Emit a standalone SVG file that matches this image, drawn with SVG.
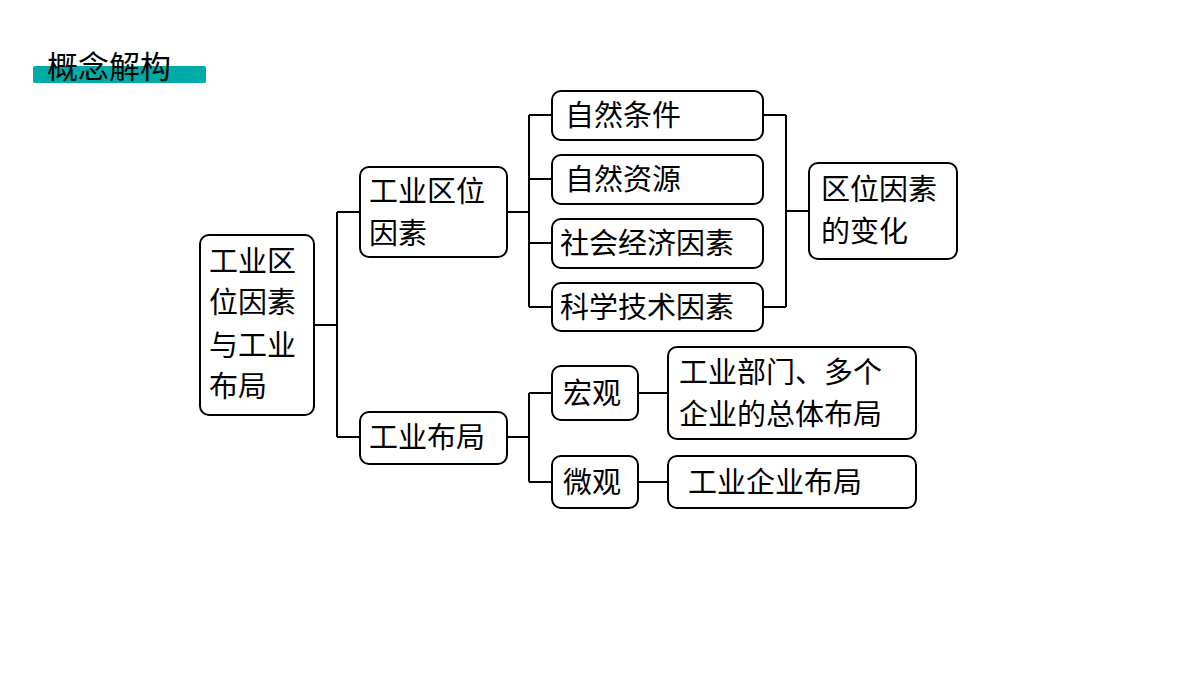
<svg xmlns="http://www.w3.org/2000/svg" width="1200" height="675" viewBox="0 0 1200 675">
<style>
.b{fill:#fff;stroke:#000;stroke-width:2}
.t{font-family:"Noto Sans CJK SC",sans-serif;font-size:29px;fill:#000}
.c{fill:none;stroke:#000;stroke-width:2}
</style>
<rect width="1200" height="675" fill="#fff"/>
<g id="title"><rect x="33" y="66" width="173" height="17" rx="2" fill="#00aaa6"/><text x="47" y="78" style="font-family:'Noto Sans CJK SC',sans-serif;font-size:31px">概念解构</text></g>
<g id="connectors" class="c">
<path d="M314 325H337M337 212V437M337 212H360M337 437H360"/>
<path d="M507 212H529M529 115V307M529 115H552M529 179H552M529 243H552M529 307H552"/>
<path d="M763 115H786M763 307H786M786 115V307M786 211H809"/>
<path d="M507 437H529M529 393V482M529 393H552M529 482H552"/>
<path d="M638 393H668M638 482H668"/>
</g>
<g id="n1"><rect class="b" x="200" y="235" width="114" height="180" rx="9"/><text class="t" x="209" y="272">工业区</text><text class="t" x="209" y="313">位因素</text><text class="t" x="209" y="356">与工业</text><text class="t" x="209" y="397">布局</text></g>
<g id="n2"><rect class="b" x="360" y="167" width="147" height="90" rx="9"/><text class="t" x="369" y="202">工业区位</text><text class="t" x="369" y="244">因素</text></g>
<g id="n3"><rect class="b" x="552" y="91" width="211" height="49" rx="9"/><text class="t" x="565" y="126">自然条件</text></g>
<g id="n4"><rect class="b" x="552" y="155" width="211" height="49" rx="9"/><text class="t" x="565" y="190">自然资源</text></g>
<g id="n5"><rect class="b" x="552" y="219" width="211" height="49" rx="9"/><text class="t" x="560" y="254">社会经济因素</text></g>
<g id="n6"><rect class="b" x="552" y="283" width="211" height="48" rx="9"/><text class="t" x="560" y="318">科学技术因素</text></g>
<g id="n7"><rect class="b" x="809" y="163" width="148" height="96" rx="9"/><text class="t" x="821" y="200">区位因素</text><text class="t" x="821" y="242">的变化</text></g>
<g id="n8"><rect class="b" x="360" y="412" width="147" height="52" rx="9"/><text class="t" x="369" y="448">工业布局</text></g>
<g id="n9"><rect class="b" x="552" y="366" width="86" height="54" rx="9"/><text class="t" x="563" y="404">宏观</text></g>
<g id="n10"><rect class="b" x="552" y="456" width="86" height="52" rx="9"/><text class="t" x="563" y="493">微观</text></g>
<g id="n11"><rect class="b" x="668" y="347" width="248" height="92" rx="9"/><text class="t" x="679" y="383">工业部门、多个</text><text class="t" x="679" y="425">企业的总体布局</text></g>
<g id="n12"><rect class="b" x="668" y="456" width="248" height="52" rx="9"/><text class="t" x="688" y="493">工业企业布局</text></g>
</svg>
